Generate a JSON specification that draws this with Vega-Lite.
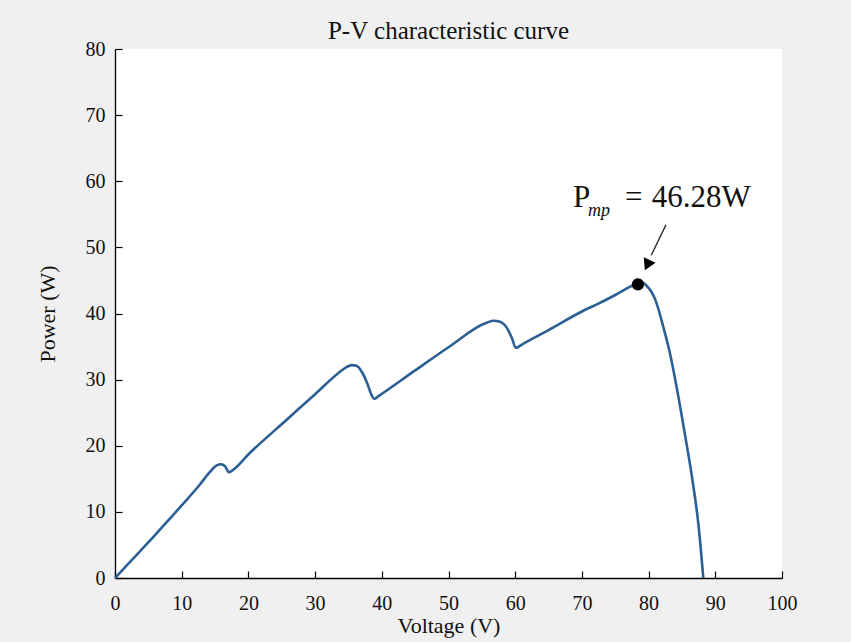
{
  "$schema": "https://vega.github.io/schema/vega-lite/v6.json",
  "width": 667,
  "height": 529,
  "autosize": {"type": "none"},
  "padding": {"left": 115, "top": 49, "right": 69, "bottom": 64},
  "background": "#f0f0f0",
  "title": {"text": "P-V characteristic curve", "font": "Liberation Serif", "fontSize": 25, "fontWeight": "normal", "color": "#111", "anchor": "middle", "offset": -5},
  "config": {
    "view": {"fill": "white", "stroke": null},
    "axis": {
      "domainColor": "#000", "domainWidth": 1.3, "tickColor": "#000", "tickWidth": 1.2, "tickSize": -7,
      "grid": false, "labelFlush": false, "labelFont": "Liberation Serif", "labelFontSize": 20, "labelColor": "#111",
      "titleFont": "Liberation Serif", "titleFontSize": 22, "titleFontWeight": "normal", "titleColor": "#111"
    }
  },
  "datasets": {
    "curve": [
      {"V": 0, "P": 0}, {"V": 2.5, "P": 2.7}, {"V": 5.2, "P": 5.6}, {"V": 7.7, "P": 8.4},
      {"V": 10.2, "P": 11.2}, {"V": 12.7, "P": 14.1}, {"V": 14.2, "P": 16.0}, {"V": 15.2, "P": 17.0},
      {"V": 15.9, "P": 17.2}, {"V": 16.5, "P": 16.9}, {"V": 17.1, "P": 16.0}, {"V": 17.5, "P": 16.2},
      {"V": 20.2, "P": 18.9}, {"V": 25.7, "P": 23.9}, {"V": 30, "P": 27.8}, {"V": 33.5, "P": 31.0},
      {"V": 34.7, "P": 31.9}, {"V": 35.5, "P": 32.2}, {"V": 36.2, "P": 32.1}, {"V": 37.0, "P": 31.2},
      {"V": 37.8, "P": 29.5}, {"V": 38.5, "P": 27.6}, {"V": 38.9, "P": 27.1}, {"V": 39.5, "P": 27.5},
      {"V": 45, "P": 31.4}, {"V": 50, "P": 34.9}, {"V": 55.7, "P": 38.6}, {"V": 56.8, "P": 38.9},
      {"V": 57.6, "P": 38.8}, {"V": 58.7, "P": 37.9}, {"V": 59.5, "P": 36.3}, {"V": 60.1, "P": 34.8},
      {"V": 61.0, "P": 35.3}, {"V": 61.7, "P": 35.7}, {"V": 65, "P": 37.5}, {"V": 70, "P": 40.3},
      {"V": 72.7, "P": 41.6}, {"V": 75, "P": 42.8}, {"V": 78.4, "P": 44.5}, {"V": 79.2, "P": 44.6},
      {"V": 79.7, "P": 44.2}, {"V": 81.0, "P": 42.1}, {"V": 82.2, "P": 38.0}, {"V": 83.2, "P": 34.0},
      {"V": 84.2, "P": 28.9}, {"V": 85.5, "P": 21.4}, {"V": 86.5, "P": 15.3}, {"V": 87.5, "P": 7.8},
      {"V": 88.2, "P": 0}
    ],
    "mpp": [{"V": 78.4, "P": 44.4}],
    "arrow": [{"V": 82.6, "P": 53.4, "V2": 80.4, "P2": 48.8}],
    "head": [{"V": 79.8, "P": 47.3}],
    "labelMain": [
      {"V": 68.67, "P": 56.13, "t": "P"},
      {"V": 76.46, "P": 56.13, "t": "="},
      {"V": 80.46, "P": 56.13, "t": "46.28W"}
    ],
    "labelSub": [{"V": 70.9, "P": 54.7, "t": "mp"}]
  },
  "layer": [
    {
      "data": {"name": "curve"},
      "mark": {"type": "line", "color": "#2c5f93", "strokeWidth": 2.6, "interpolate": "monotone"},
      "encoding": {
        "x": {"field": "V", "type": "quantitative", "scale": {"domain": [0, 100], "nice": false},
          "axis": {"title": "Voltage (V)", "values": [0,10,20,30,40,50,60,70,80,90,100], "labelPadding": 22, "titlePadding": 2}},
        "y": {"field": "P", "type": "quantitative", "scale": {"domain": [0, 80], "nice": false},
          "axis": {"title": "Power (W)", "values": [0,10,20,30,40,50,60,70,80], "labelPadding": 17, "titlePadding": 26}}
      }
    },
    {
      "data": {"name": "mpp"},
      "mark": {"type": "point", "filled": true, "color": "#000", "size": 150, "opacity": 1},
      "encoding": {"x": {"field": "V", "type": "quantitative"}, "y": {"field": "P", "type": "quantitative"}}
    },
    {
      "data": {"name": "arrow"},
      "mark": {"type": "rule", "color": "#222", "strokeWidth": 1.3},
      "encoding": {"x": {"field": "V", "type": "quantitative"}, "y": {"field": "P", "type": "quantitative"}, "x2": {"field": "V2"}, "y2": {"field": "P2"}}
    },
    {
      "data": {"name": "head"},
      "mark": {"type": "point", "shape": "triangle-down", "angle": 25, "filled": true, "color": "#000", "size": 170, "opacity": 1},
      "encoding": {"x": {"field": "V", "type": "quantitative"}, "y": {"field": "P", "type": "quantitative"}}
    },
    {
      "data": {"name": "labelMain"},
      "mark": {"type": "text", "font": "Liberation Serif", "fontSize": 31, "align": "left", "baseline": "alphabetic", "color": "#111"},
      "encoding": {"x": {"field": "V", "type": "quantitative"}, "y": {"field": "P", "type": "quantitative"}, "text": {"field": "t"}}
    },
    {
      "data": {"name": "labelSub"},
      "mark": {"type": "text", "font": "Liberation Serif", "fontSize": 18, "fontStyle": "italic", "align": "left", "baseline": "alphabetic", "color": "#111"},
      "encoding": {"x": {"field": "V", "type": "quantitative"}, "y": {"field": "P", "type": "quantitative"}, "text": {"field": "t"}}
    }
  ]
}
